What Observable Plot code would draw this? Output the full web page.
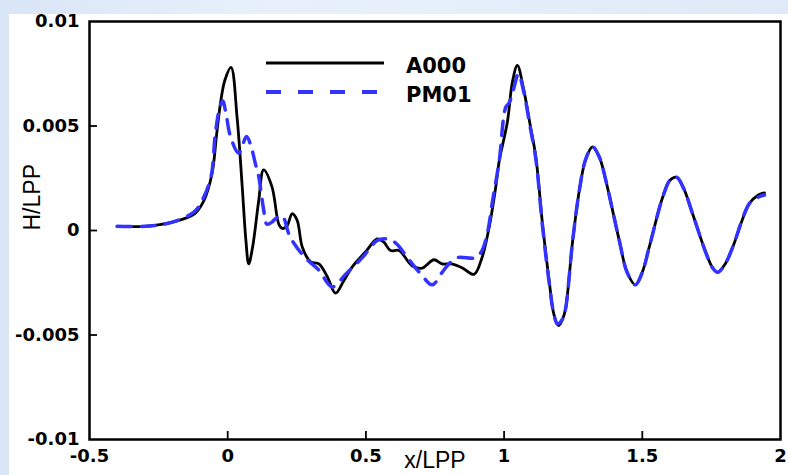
<!DOCTYPE html>
<html>
<head>
<meta charset="utf-8">
<script src="https://cdn.jsdelivr.net/npm/d3@7"></script>
<script src="https://cdn.jsdelivr.net/npm/@observablehq/plot@0.6"></script>
<style>
html, body { margin: 0; padding: 0; width: 788px; height: 475px; overflow: hidden; }
body { position: relative; background: linear-gradient(90deg, #d9e6f6 0%, #e9f0fb 35%, #e4edf9 70%, #dfe9f7 100%); }
#panel { position: absolute; left: 9px; top: 14px; right: 0; bottom: 0; background: #ffffff; }
#chart { position: absolute; left: 0; top: 0; }
#legend { position: absolute; left: 0; top: 0; }
#chart svg { background: transparent; overflow: visible; }
#chart g[aria-label="x-axis tick label"] text,
#chart g[aria-label="y-axis tick label"] text { font-family: "DejaVu Sans"; font-weight: bold; font-size: 18px; fill: #000; }
#chart g[aria-label="text"] text { font-family: "Liberation Sans"; font-size: 23px; fill: #000; }
</style>
</head>
<body>
<div id="panel"></div>
<div id="chart"></div>
<div id="legend"></div>
<script>
// ---- data ----
const seriesNames = ["A000", "PM01"];
const seriesColors = ["#000000", "#3333ff"];

const xA000 = [-0.4, -0.3, -0.2, -0.12, -0.087, -0.057, -0.04, -0.025, -0.01, 0.012, 0.034, 0.052, 0.066, 0.076, 0.09, 0.112, 0.13, 0.16, 0.185, 0.197, 0.214, 0.233, 0.251, 0.27, 0.30, 0.33, 0.36, 0.39, 0.42, 0.45, 0.50, 0.541, 0.565, 0.589, 0.62, 0.668, 0.704, 0.746, 0.776, 0.81, 0.85, 0.891, 0.92, 0.946, 0.97, 0.982, 1.012, 1.03, 1.048, 1.07, 1.095, 1.115, 1.139, 1.163, 1.18, 1.197, 1.213, 1.223, 1.248, 1.272, 1.295, 1.32, 1.345, 1.368, 1.417, 1.445, 1.475, 1.50, 1.525, 1.574, 1.60, 1.624, 1.65, 1.682, 1.731, 1.755, 1.773, 1.80, 1.827, 1.888, 1.92, 1.942];
const hA000 = [0.0002, 0.0002, 0.0004, 0.0008, 0.0014, 0.0027, 0.0046, 0.0062, 0.0072, 0.0078, 0.0054, 0.0022, -0.0005, -0.0016, -0.0008, 0.0014, 0.0029, 0.0021, 0.0003, 0.0001, 0.0002, 0.0008, 0.0005, -0.0008, -0.0015, -0.0016, -0.0022, -0.0030, -0.0024, -0.00175, -0.0010, -0.0004, -0.00056, -0.00096, -0.00096, -0.0017, -0.0018, -0.0014, -0.0016, -0.0016, -0.0018, -0.0021, -0.0013, 0.00016, 0.0021, 0.0033, 0.0052, 0.0071, 0.0079, 0.0068, 0.0050, 0.0035, 0.0003, -0.0024, -0.0040, -0.00455, -0.0042, -0.0037, -0.0005, 0.0019, 0.0034, 0.0040, 0.0035, 0.0024, -0.0005, -0.0020, -0.0026, -0.0020, -0.0008, 0.0016, 0.0024, 0.00255, 0.0020, 0.0008, -0.0011, -0.0018, -0.0020, -0.0016, -0.0008, 0.0013, 0.0017, 0.0018];

const xPM01 = [-0.4, -0.3, -0.2, -0.12, -0.09, -0.06, -0.045, -0.03, -0.018, -0.005, 0.01, 0.04, 0.068, 0.085, 0.10, 0.112, 0.13, 0.142, 0.16, 0.173, 0.197, 0.221, 0.239, 0.28, 0.33, 0.378, 0.426, 0.487, 0.541, 0.575, 0.608, 0.656, 0.70, 0.74, 0.776, 0.80, 0.83, 0.897, 0.92, 0.94, 0.958, 0.982, 1.006, 1.018, 1.035, 1.052, 1.07, 1.095, 1.115, 1.139, 1.163, 1.18, 1.193, 1.213, 1.223, 1.248, 1.272, 1.295, 1.32, 1.345, 1.368, 1.417, 1.445, 1.475, 1.50, 1.525, 1.574, 1.60, 1.624, 1.65, 1.682, 1.731, 1.755, 1.773, 1.80, 1.827, 1.888, 1.92, 1.942];
const hPM01 = [0.0002, 0.0002, 0.0004, 0.0009, 0.0015, 0.0026, 0.0046, 0.0058, 0.0062, 0.0055, 0.0045, 0.0037, 0.0045, 0.0040, 0.0032, 0.0026, 0.0010, 0.0003, 0.0004, 0.00056, 0.0007, -0.00016, -0.0006, -0.0013, -0.0019, -0.0027, -0.0021, -0.0013, -0.00048, -0.0004, -0.0006, -0.0014, -0.0021, -0.0026, -0.0020, -0.0016, -0.0013, -0.0013, -0.00096, -0.0001, 0.0014, 0.0033, 0.0059, 0.0061, 0.0068, 0.0075, 0.0067, 0.0049, 0.0034, 0.0002, -0.0025, -0.0040, -0.00447, -0.0042, -0.0037, -0.0005, 0.0019, 0.0034, 0.0040, 0.0035, 0.0024, -0.0005, -0.0020, -0.0026, -0.0020, -0.0008, 0.0016, 0.0024, 0.00255, 0.0020, 0.0008, -0.0011, -0.0018, -0.0020, -0.0016, -0.0008, 0.0013, 0.0016, 0.0017];

const xTicks = [-0.5, 0, 0.5, 1, 1.5, 2];
const xTickLabels = ["-0.5", "0", "0.5", "1", "1.5", "2"];
const yTicks = [-0.01, -0.005, 0, 0.005, 0.01];
const yTickLabels = ["-0.01", "-0.005", "0", "0.005", "0.01"];
const xTitle = "x/LPP";
const yTitle = "H/LPP";

const dataA = xA000.map((x, i) => ({x, h: hA000[i]}));
const dataP = xPM01.map((x, i) => ({x, h: hPM01[i]}));

// layout
const W = 788, H = 475, mL = 89, mR = 8, mT = 21, mB = 36;
const plotW = W - mL - mR, plotH = H - mT - mB;
const tickLen = 8;

const chart = Plot.plot({
  width: W,
  height: H,
  marginLeft: mL,
  marginRight: mR,
  marginTop: mT,
  marginBottom: mB,
  style: {background: "transparent"},
  x: {domain: [-0.5, 2]},
  y: {domain: [-0.01, 0.01]},
  marks: [
    Plot.line(dataA, {x: "x", y: "h", stroke: seriesColors[0], strokeWidth: 2.8, curve: "catmull-rom"}),
    Plot.line(dataP, {x: "x", y: "h", stroke: seriesColors[1], strokeWidth: 3.5, strokeDasharray: "14,10", curve: "catmull-rom"}),
    // inward tick marks
    Plot.ruleX(xTicks.slice(1, -1), {x: d => d, insetTop: plotH - tickLen, stroke: "#000", strokeWidth: 1.8}),
    Plot.ruleY(yTicks.slice(1, -1), {y: d => d, insetRight: plotW - tickLen, stroke: "#000", strokeWidth: 1.8}),
    Plot.frame({stroke: "#000", strokeWidth: 2.5}),
    Plot.axisX({ticks: xTicks, tickFormat: (d) => xTickLabels[xTicks.indexOf(d)], tickSize: 0, tickPadding: 10, label: null}),
    Plot.axisY({ticks: yTicks, tickFormat: (d) => yTickLabels[yTicks.indexOf(d)], tickSize: 0, tickPadding: 10, label: null}),
    Plot.text([xTitle], {frameAnchor: "bottom", dy: 28, text: d => d}),
    Plot.text([yTitle], {frameAnchor: "left", rotate: -90, dx: -57, text: d => d})
  ]
});
document.getElementById("chart").append(chart);

// legend
const lg = d3.select("#legend").append("svg").attr("width", 788).attr("height", 120);
const legendDash = [null, "15,17"];
const legendWidth = [3.2, 4];
seriesNames.forEach((name, i) => {
  const y = 63 + i * 29;
  lg.append("line").attr("x1", 266).attr("x2", 384).attr("y1", y).attr("y2", y)
    .attr("stroke", seriesColors[i]).attr("stroke-width", legendWidth[i])
    .attr("stroke-dasharray", legendDash[i]);
  lg.append("text").attr("x", 406).attr("y", y + 2).attr("dy", "0.36em")
    .attr("font-family", "DejaVu Sans").attr("font-weight", "bold").attr("font-size", 21)
    .attr("fill", "#000").text(name);
});
</script>
</body>
</html>
